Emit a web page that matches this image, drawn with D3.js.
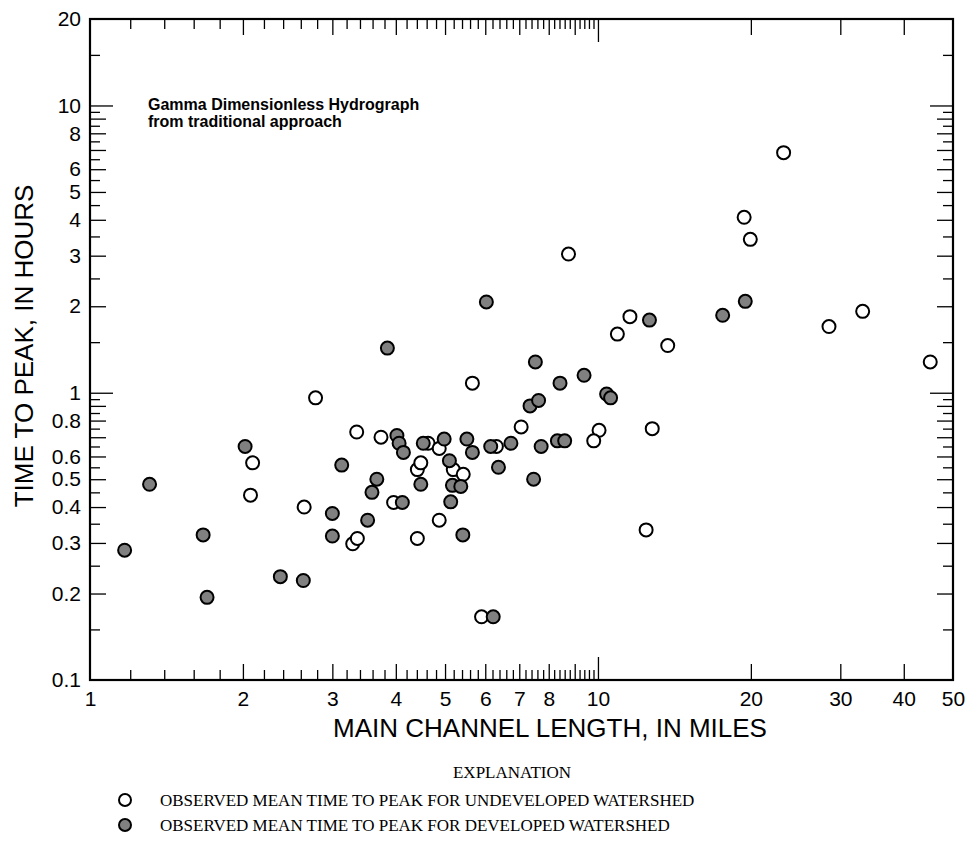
<!DOCTYPE html>
<html><head><meta charset="utf-8">
<script src="https://cdn.jsdelivr.net/npm/d3@7"></script>
<style>body{margin:0;background:#fff}</style>
</head><body>
<svg id="c" width="977" height="841"></svg>
<script>
// Undeveloped watersheds (open circles)
const undevLength = [2.09,2.07,2.78,2.64,3.29,3.36,3.35,3.74,3.96,4.41,4.41,4.48,4.63,4.87,4.87,5.19,5.43,5.66,6.31,5.90,7.06,8.75,10.05,9.81,10.92,11.56,13.72,12.79,12.44,23.2,19.4,19.95,33.2,28.5,45.1];
const undevTime   = [0.57,0.44,0.96,0.40,0.298,0.311,0.73,0.70,0.415,0.311,0.54,0.57,0.667,0.64,0.36,0.54,0.52,1.08,0.65,0.166,0.76,3.04,0.74,0.68,1.60,1.84,1.46,0.75,0.333,6.85,4.08,3.42,1.92,1.70,1.28];
// Developed watersheds (gray circles)
const devLength = [1.17,1.31,1.67,1.70,2.02,2.37,2.63,3.13,3.00,3.00,3.85,4.02,4.06,4.14,4.53,4.98,5.52,5.66,6.15,6.74,7.73,5.10,6.37,7.47,3.67,3.59,4.48,5.17,5.37,4.12,5.13,3.52,5.42,6.22,6.03,7.53,7.35,7.64,8.42,9.39,10.40,10.59,8.32,8.60,12.63,19.5,17.6];
const devTime   = [0.283,0.48,0.32,0.194,0.65,0.229,0.222,0.56,0.38,0.317,1.43,0.71,0.667,0.62,0.667,0.69,0.69,0.62,0.65,0.667,0.65,0.58,0.55,0.50,0.50,0.45,0.48,0.476,0.472,0.415,0.417,0.36,0.32,0.166,2.07,1.28,0.90,0.94,1.08,1.15,0.99,0.96,0.68,0.68,1.79,2.08,1.86];

const xTickLabels = [1,2,3,4,5,6,7,8,10,20,30,40,50];
const yTickLabels = [0.1,0.2,0.3,0.4,0.5,0.6,0.8,1,2,3,4,5,6,8,10,20];
const xLongTicks = [10];
const xMajorTicks = [2,3,4,5,6,7,8,9,20,30,40];
const xMinorTicks = d3.range(1.2,10,0.2).concat(d3.range(12,50,2)).filter(v => Math.abs(v-Math.round(v))>1e-6 && v%10!==0);
const yLongTicks = [1,10];
const yMajorTicks = [0.2,0.3,0.4,0.5,0.6,0.7,0.8,0.9,2,3,4,5,6,7,8,9];
const yMinorTicks = d3.range(0.15,1,0.1).concat(d3.range(1.5,10,1)).concat([15]);

const legendLabels = ["OBSERVED MEAN TIME TO PEAK FOR UNDEVELOPED WATERSHED","OBSERVED MEAN TIME TO PEAK FOR DEVELOPED WATERSHED"];
const noteLines = ["Gamma Dimensionless Hydrograph","from traditional approach"];

const L=90, R=953, T=19, B=680;
const svg = d3.select("#c");
const x = d3.scaleLog().domain([1,50]).range([L,R]);
const y = d3.scaleLog().domain([0.1,20]).range([B,T]);
const sans = "'Liberation Sans', Arial, sans-serif";

function ticks(axisFn, scale, vals, size, tx, ty){
  const g = svg.append("g").attr("transform",`translate(${tx},${ty})`)
    .call(axisFn(scale).tickValues(vals).tickSize(-size).tickFormat(""));
  g.select(".domain").remove();
  g.selectAll("line").attr("stroke","#000").attr("stroke-width",1.3);
}
[[xLongTicks,23],[xMajorTicks,16],[xMinorTicks,10]].forEach(([v,s])=>{
  ticks(d3.axisBottom,x,v,s,0,B); ticks(d3.axisTop,x,v,s,0,T);
});
[[yLongTicks,23],[yMajorTicks,16],[yMinorTicks,10]].forEach(([v,s])=>{
  ticks(d3.axisLeft,y,v,s,L,0); ticks(d3.axisRight,y,v,s,R,0);
});

svg.append("rect").attr("x",L).attr("y",T).attr("width",R-L).attr("height",B-T)
  .attr("fill","none").attr("stroke","#000").attr("stroke-width",2.2);

// tick labels
const gx = svg.append("g").attr("transform",`translate(0,${B})`)
  .call(d3.axisBottom(x).tickValues(xTickLabels).tickSize(0).tickPadding(11).tickFormat(d=>String(d)));
gx.select(".domain").remove();
gx.selectAll("text").attr("font-family",sans).attr("font-size",21).attr("fill","#000");
const gy = svg.append("g").attr("transform",`translate(${L},0)`)
  .call(d3.axisLeft(y).tickValues(yTickLabels).tickSize(0).tickPadding(9).tickFormat(d=>String(d)));
gy.select(".domain").remove();
gy.selectAll("text").attr("font-family",sans).attr("font-size",21).attr("fill","#000");

// axis titles
svg.append("text").attr("x",550).attr("y",737).attr("text-anchor","middle")
  .attr("font-family",sans).attr("font-size",26).text("MAIN CHANNEL LENGTH, IN MILES");
svg.append("text").attr("transform",`translate(33,346) rotate(-90)`).attr("text-anchor","middle")
  .attr("font-family",sans).attr("font-size",26).text("TIME TO PEAK, IN HOURS");

// note
svg.append("g").selectAll("text").data(noteLines).join("text")
  .attr("x",148).attr("y",(d,i)=>110+i*17).attr("font-family",sans).attr("font-weight","bold")
  .attr("font-size",16).text(d=>d);

// points
const r = 6.5;
svg.append("g").selectAll("circle").data(d3.zip(undevLength,undevTime)).join("circle")
  .attr("cx",d=>x(d[0])).attr("cy",d=>y(d[1])).attr("r",r)
  .attr("fill","#fff").attr("stroke","#000").attr("stroke-width",2);
svg.append("g").selectAll("circle").data(d3.zip(devLength,devTime)).join("circle")
  .attr("cx",d=>x(d[0])).attr("cy",d=>y(d[1])).attr("r",r)
  .attr("fill","#808080").attr("stroke","#000").attr("stroke-width",2);

// legend
const serif = "'Liberation Serif', 'Times New Roman', serif";
svg.append("text").attr("x",512).attr("y",778).attr("text-anchor","middle")
  .attr("font-family",serif).attr("font-size",17).text("EXPLANATION");
const lg = svg.append("g").selectAll("g").data(legendLabels).join("g")
  .attr("transform",(d,i)=>`translate(0,${800+i*25})`);
lg.append("circle").attr("cx",125).attr("cy",0).attr("r",6)
  .attr("fill",(d,i)=>i===0?"#fff":"#808080").attr("stroke","#000").attr("stroke-width",2);
lg.append("text").attr("x",160).attr("y",6).attr("font-family",serif).attr("font-size",17).text(d=>d);
</script>
</body></html>
